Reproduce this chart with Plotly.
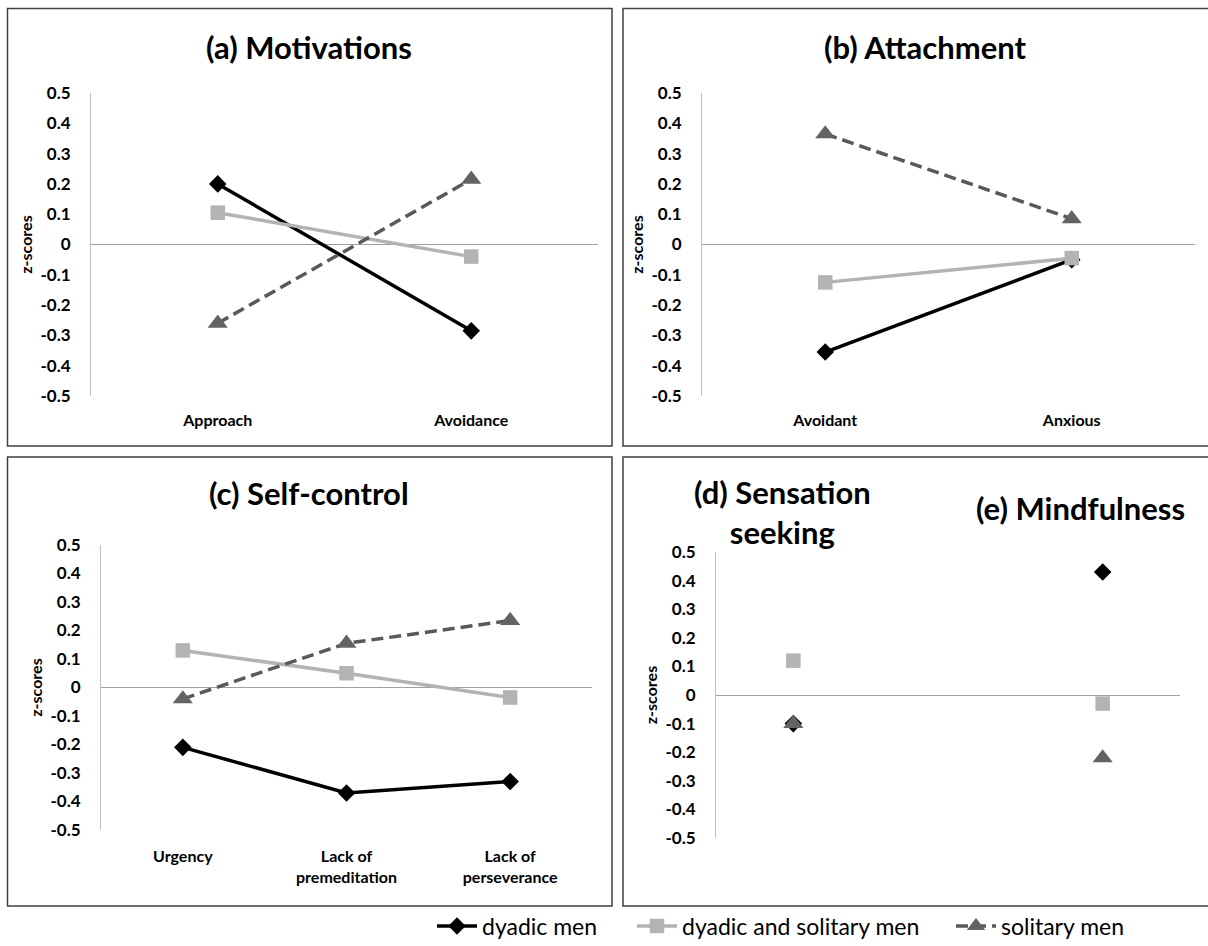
import plotly.graph_objects as go

W, H = 1208, 946
FONT = "Lato"

# ---------------- data ----------------
y_tick_values = [0.5, 0.4, 0.3, 0.2, 0.1, 0, -0.1, -0.2, -0.3, -0.4, -0.5]
y_tick_labels = ["0.5", "0.4", "0.3", "0.2", "0.1", "0", "-0.1", "-0.2", "-0.3", "-0.4", "-0.5"]

series_names = ["dyadic men", "dyadic and solitary men", "solitary men"]

a_categories = ["Approach", "Avoidance"]
a_dyadic = [0.20, -0.285]
a_both = [0.105, -0.04]
a_solitary = [-0.26, 0.215]

b_categories = ["Avoidant", "Anxious"]
b_dyadic = [-0.355, -0.05]
b_both = [-0.125, -0.045]
b_solitary = [0.365, 0.085]

c_categories = ["Urgency", "Lack of<br>premeditation", "Lack of<br>perseverance"]
c_dyadic = [-0.21, -0.37, -0.33]
c_both = [0.13, 0.05, -0.035]
c_solitary = [-0.04, 0.155, 0.235]

d_categories = ["Sensation seeking", " ", "Mindfulness"]
d_dyadic = [-0.10, None, 0.43]
d_both = [0.12, None, -0.03]
d_solitary = [-0.10, None, -0.22]

titles = ["(a) Motivations", "(b) Attachment", "(c) Self-control",
          "(d) Sensation<br>seeking", "(e) Mindfulness"]

# ---------------- styles ----------------
styles = [
    dict(line=dict(color="#000000", width=3.5),
         marker=dict(symbol="diamond", size=13.5, color="#000000")),
    dict(line=dict(color="#b3b3b3", width=3.5),
         marker=dict(symbol="square", size=14.5, color="#b3b3b3")),
    dict(line=dict(color="#595959", width=3.5, dash="12px,6px"),
         marker=dict(symbol="triangle-up", size=17.5, color="#636363")),
]
legend_ids = ["legend", "legend2", "legend3"]


def px_x(p):
    return p / W


def px_y(p):
    return 1 - p / H


fig = go.Figure()

panels = [
    ("x", "y", a_categories, [a_dyadic, a_both, a_solitary], "lines+markers"),
    ("x2", "y2", b_categories, [b_dyadic, b_both, b_solitary], "lines+markers"),
    ("x3", "y3", c_categories, [c_dyadic, c_both, c_solitary], "lines+markers"),
    ("x4", "y4", d_categories, [d_dyadic, d_both, d_solitary], "markers"),
]

for pi, (xa, ya, cats, vals, mode) in enumerate(panels):
    for si, v in enumerate(vals):
        fig.add_trace(go.Scatter(
            x=cats, y=v, mode=mode, name=series_names[si],
            xaxis=xa, yaxis=ya,
            line=styles[si]["line"], marker=styles[si]["marker"],
            showlegend=(pi == 0), legend=legend_ids[si],
            cliponaxis=False,
        ))

# axis domains (reference pixel based)
domains = [
    ((91, 598), (93, 396)),
    ((702, 1195), (93, 396)),
    ((101, 592), (545, 830)),
    ((716, 1180), (552, 838)),
]
xlabel_standoff = [13, 13, 15, 13]

xtickfont = dict(family=FONT, size=16, color="#000000", weight="bold")
ytickfont = dict(family=FONT, size=17, color="#000000", weight="bold")

for i, ((x0, x1), (y0, y1)) in enumerate(domains):
    sfx = "" if i == 0 else str(i + 1)
    cats = panels[i][2]
    fig.update_layout(**{
        "xaxis" + sfx: dict(
            domain=[px_x(x0), px_x(x1)],
            anchor="y" + sfx,
            type="category",
            categoryorder="array", categoryarray=cats,
            range=[-0.5, len(cats) - 0.5],
            showgrid=False, zeroline=False, showline=False, ticks="",
            showticklabels=(i != 3),
            tickfont=xtickfont,
            ticklabelstandoff=xlabel_standoff[i],
            automargin=False,
            fixedrange=True,
        ),
        "yaxis" + sfx: dict(
            domain=[px_y(y1), px_y(y0)],
            anchor="x" + sfx,
            range=[-0.5, 0.5],
            tickvals=y_tick_values, ticktext=y_tick_labels,
            showgrid=False,
            zeroline=True, zerolinecolor="#a0a0a0", zerolinewidth=1,
            showline=True, linecolor="#bfbfbf", linewidth=1,
            ticks="", tickfont=ytickfont, ticklabelstandoff=16,
            title=dict(text="z-scores", standoff=3,
                       font=dict(family=FONT, size=16, color="#000000", weight="bold")),
            automargin=False,
            fixedrange=True,
        ),
    })

# panel borders (right side of the right-hand panels is cut off in the reference)
border_color = "#404040"
borders = [
    ((7.5, 8.5), (612, 446), True),
    ((623, 8.5), (1250, 446), False),
    ((7.5, 457), (612, 906), True),
    ((623, 457), (1250, 906), False),
]
for (x0, y0), (x1, y1), closed in borders:
    X0, X1, Y0, Y1 = px_x(x0), px_x(x1), px_y(y0), px_y(y1)
    if closed:
        fig.add_shape(type="rect", xref="paper", yref="paper",
                      x0=X0, x1=X1, y0=Y1, y1=Y0,
                      line=dict(color=border_color, width=1.5), layer="below")
    else:
        fig.add_shape(type="path", xref="paper", yref="paper",
                      path=f"M {X1},{Y0} L {X0},{Y0} L {X0},{Y1} L {X1},{Y1}",
                      line=dict(color=border_color, width=1.5), layer="below")

# titles
title_pos = [(309, 47), (925, 47), (309, 493), (782, 512), (1080, 508)]
for t, (x, y) in zip(titles, title_pos):
    fig.add_annotation(text=t, x=px_x(x), y=px_y(y), xref="paper", yref="paper",
                       xanchor="center", yanchor="middle", showarrow=False,
                       font=dict(family=FONT, size=31, color="#000000", weight="bold"))

legend_font = dict(family=FONT, size=23, color="#000000")
legend_x = [432, 632, 951]
legend_common = dict(orientation="h", yanchor="middle", xanchor="left",
                     y=px_y(926), font=legend_font, bgcolor="rgba(0,0,0,0)",
                     itemwidth=40, borderwidth=0)
fig.update_layout(
    legend=dict(x=px_x(legend_x[0]), **legend_common),
    legend2=dict(x=px_x(legend_x[1]), **legend_common),
    legend3=dict(x=px_x(legend_x[2]), **legend_common),
)

fig.update_layout(
    width=W, height=H,
    margin=dict(l=0, r=0, t=0, b=0, pad=0, autoexpand=False),
    paper_bgcolor="white", plot_bgcolor="white",
    font=dict(family=FONT, color="#000000"),
)

# the figure fills the whole window: drop the default page margin
fig.write_html(
    "out.html",
    config={"displayModeBar": False, "staticPlot": True},
    post_script="document.body.style.margin='0';document.body.style.overflow='hidden';",
)
